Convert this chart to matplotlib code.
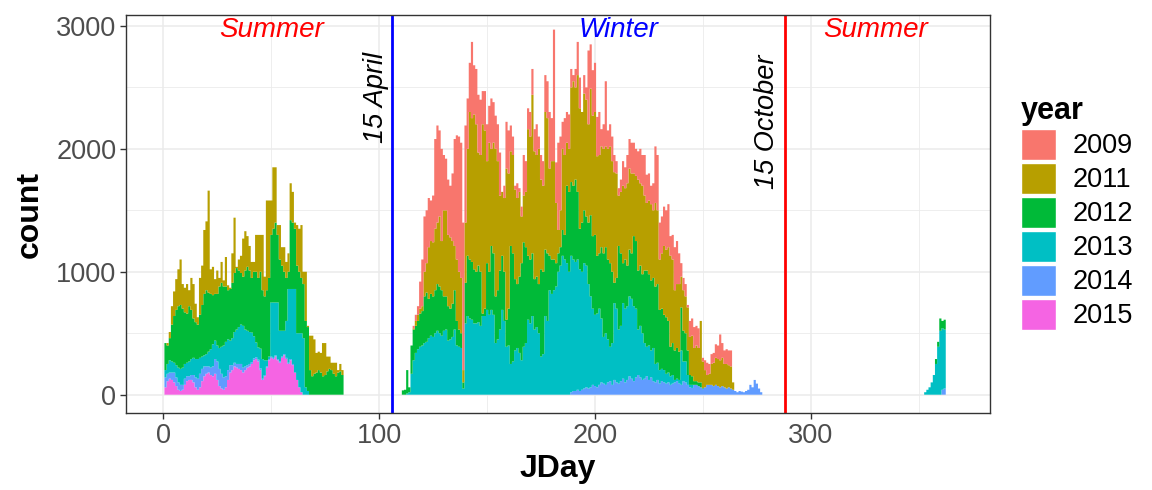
import numpy as np
import matplotlib
matplotlib.use("Agg")
import matplotlib.pyplot as plt
from matplotlib.patches import Patch
from matplotlib.ticker import MultipleLocator

plt.rcParams['font.family'] = ['Liberation Sans', 'DejaVu Sans']

# stacked daily counts
years = ['2009', '2011', '2012', '2013', '2014', '2015']
colors = ['#F8766D', '#B79F00', '#00BA38', '#00BFC4', '#619CFF', '#F564E3']

# summer block: days 1..83
summer_first = 1
summer_2015 = [60, 110, 130, 120, 100, 70, 40, 30, 40, 80,
               110, 120, 120, 100, 60, 40, 60, 110, 150, 170,
               180, 160, 150, 170, 120, 70, 50, 40, 60, 120,
               180, 200, 230, 220, 210, 200, 180, 200, 220, 230,
               250, 280, 290, 270, 200, 120, 150, 220, 280, 300,
               290, 310, 280, 260, 300, 320, 290, 250, 280, 240,
               180, 120, 60, 20, 0, 0, 0, 0, 0, 0,
               0, 0, 0, 0, 0, 0, 0, 0, 0, 0,
               0, 0, 0]
summer_2014 = [80, 60, 50, 60, 80, 70, 60, 50, 40, 50,
               40, 30, 40, 60, 80, 90, 110, 100, 80, 60,
               50, 60, 80, 120, 150, 140, 120, 100, 90, 80,
               60, 40, 30, 30, 40, 50, 40, 30, 20, 20,
               15, 15, 15, 15, 15, 10, 10, 10, 10, 10,
               10, 10, 10, 10, 10, 10, 10, 10, 10, 10,
               0, 0, 0, 0, 0, 0, 0, 0, 0, 0,
               0, 0, 0, 0, 0, 0, 0, 0, 0, 0,
               0, 0, 0]
summer_2013 = [60, 80, 100, 90, 80, 100, 120, 130, 140, 120,
               110, 120, 130, 140, 150, 160, 130, 100, 90, 100,
               120, 150, 180, 150, 130, 170, 220, 260, 280, 250,
               200, 220, 250, 280, 300, 320, 340, 300, 280, 260,
               240, 180, 120, 100, 160, 160, 120, 50, 20, 440,
               450, 430, 460, 250, 210, 190, 300, 600, 570, 610,
               680, 380, 440, 480, 460, 60, 30, 0, 0, 0,
               0, 0, 0, 0, 0, 0, 0, 0, 0, 0,
               0, 0, 0]
summer_2012 = [220, 150, 180, 300, 380, 450, 500, 520, 480, 420,
               400, 450, 400, 320, 300, 280, 350, 420, 500, 520,
               480, 450, 400, 380, 420, 500, 520, 480, 450, 400,
               420, 450, 480, 500, 460, 420, 400, 480, 520, 500,
               445, 525, 575, 565, 625, 560, 520, 570, 640, 550,
               600, 650, 550, 580, 530, 480, 350, 140, 560, 540,
               490, 550, 500, 450, 440, 540, 520, 200, 150, 170,
               180, 200, 180, 150, 160, 190, 210, 200, 170, 150,
               180, 190, 160]
summer_2011 = [0, 20, 50, 150, 200, 250, 300, 370, 200, 200,
               240, 130, 260, 280, 150, 60, 300, 320, 520, 560,
               830, 200, 230, 120, 190, 70, 170, 50, 240, 40,
               10, 240, 450, 10, 90, 140, 310, 320, 250, 200,
               130, 80, 300, 350, 300, 450, 160, 730, 630, 280,
               500, 450, 80, 280, 150, 200, 130, 150, 300, 250,
               50, 330, 350, 430, 100, 400, 10, 280, 330, 280,
               160, 150, 160, 270, 260, 120, 100, 60, 90, 110,
               20, 60, 40]

# winter block: days 111..277
winter_first = 111
winter_2014 = [0] * 78 + [20, 30, 30, 40, 30, 40, 50, 60, 50, 60,
               80, 70, 60, 80, 100, 90, 80, 100, 110, 80,
               120, 100, 90, 110, 130, 100, 120, 150, 130, 110,
               140, 160, 140, 120, 130, 150, 120, 140, 110, 100,
               120, 90, 110, 100, 90, 100, 80, 90, 100, 110,
               90, 80, 110, 100, 80, 60, 55, 80, 80, 70,
               60, 50, 60, 80, 80, 80, 70, 80, 70, 60,
               70, 60, 50, 60, 50, 40, 30, 20, 30, 25,
               20, 30, 40, 80, 60, 120, 90, 50, 20]
winter_2013 = [0, 0, 10, 20, 170, 280, 340, 370, 390, 400,
               420, 430, 460, 480, 470, 500, 520, 500, 480, 520,
               530, 440, 450, 470, 530, 400, 390, 380, 50, 580,
               640, 620, 610, 580, 580, 590, 560, 640, 640, 690,
               650, 690, 650, 420, 450, 530, 690, 600, 390, 400,
               250, 270, 360, 380, 340, 280, 390, 420, 610, 580,
               640, 530, 550, 500, 310, 330, 640, 600, 850, 820,
               850, 880, 1000, 1050, 1130, 1100, 1070, 1000, 1110, 1070,
               1050, 1060, 990, 960, 1020, 990, 850, 740, 620, 580,
               600, 620, 520, 380, 420, 350, 280, 340, 625, 600,
               440, 450, 615, 600, 600, 650, 650, 610, 560, 370,
               420, 380, 290, 240, 280, 220, 270, 150, 140, 110,
               100, 100, 80, 80, 70, 70, 20, 20, 30, 280,
               160, 170, 80, 20, 25, 0, 0, 0, 0, 0,
               0, 0, 0, 0, 0, 0, 0, 0, 0, 0,
               0, 0, 0, 0, 0, 0, 0, 0, 0, 0,
               0, 0, 0, 0, 0, 0, 0]
winter_2012 = [35, 40, 190, 40, 230, 250, 220, 230, 270, 280,
               380, 400, 320, 340, 330, 350, 380, 380, 370, 280,
               270, 280, 250, 270, 320, 200, 140, 120, 50, 330,
               490, 480, 470, 440, 420, 460, 440, 20, 60, 380,
               350, 520, 500, 380, 400, 480, 440, 400, 220, 300,
               960, 880, 580, 520, 620, 790, 850, 780, 520, 520,
               510, 410, 410, 400, 710, 670, 540, 550, 280, 280,
               250, 190, 150, 150, 210, 200, 630, 650, 600, 600,
               670, 550, 330, 400, 430, 400, 500, 660, 590, 650,
               470, 450, 580, 680, 700, 650, 680, 580, 165, 250,
               680, 590, 325, 400, 330, 380, 370, 570, 550, 480,
               490, 480, 590, 620, 580, 570, 570, 630, 640, 490,
               490, 450, 460, 420, 240, 260, 240, 250, 230, 350,
               250, 230, 200, 80, 70, 30, 30, 30, 40, 5,
               0, 0, 0, 0, 0, 0, 0, 0, 0, 0,
               0, 0, 0, 0, 0, 0, 0, 0, 0, 0,
               0, 0, 0, 0, 0, 0, 0]
winter_2011 = [0, 0, 0, 0, 0, 10, 40, 50, 40, 40,
               200, 240, 420, 430, 440, 500, 500, 570, 400, 700,
               700, 580, 580, 510, 360, 500, 470, 450, 100, 490,
               870, 1200, 1170, 1260, 1200, 920, 950, 1540, 1450, 830,
               1050, 790, 900, 1200, 1050, 610, 520, 600, 1230, 1100,
               770, 800, 730, 700, 690, 380, 380, 450, 1030, 1000,
               1290, 1040, 990, 1100, 730, 700, 1120, 1100, 710, 800,
               800, 490, 190, 300, 660, 650, 350, 350, 770, 850,
               750, 950, 980, 900, 950, 950, 800, 1030, 980, 1000,
               810, 800, 820, 850, 820, 900, 950, 900, 900, 850,
               410, 500, 630, 580, 670, 660, 650, 510, 530, 740,
               670, 720, 610, 550, 600, 620, 550, 680, 600, 410,
               450, 560, 550, 600, 740, 680, 490, 520, 550, 250,
               330, 300, 350, 310, 330, 270, 290, 280, 500, 215,
               140, 80, 90, 170, 190, 220, 220, 220, 230, 190,
               200, 180, 180, 60, 0, 0, 0, 0, 0, 0,
               0, 0, 0, 0, 0, 0, 0]
winter_2009 = [0, 0, 0, 0, 0, 20, 50, 70, 220, 380,
               450, 430, 400, 330, 380, 730, 790, 700, 750, 450,
               420, 450, 420, 550, 870, 1010, 1100, 1100, 1200, 790,
               410, 400, 620, 400, 450, 470, 450, 270, 320, 300,
               300, 410, 330, 270, 300, 350, 0, 100, 380, 350,
               210, 150, 30, 120, 30, 80, 330, 250, 170, 200,
               210, 180, 250, 100, 200, 200, 300, 300, 460, 350,
               1070, 330, 710, 600, 220, 300, 250, 280, 150, 50,
               150, 270, 250, 0, 150, 100, 600, 360, 370, 400,
               320, 350, 140, 200, 530, 150, 180, 200, 140, 100,
               60, 100, 200, 170, 230, 240, 250, 250, 220, 230,
               280, 250, 330, 230, 220, 150, 220, 460, 450, 300,
               300, 320, 320, 350, 160, 200, 350, 350, 250, 110,
               100, 100, 20, 130, 140, 170, 160, 160, 0, 30,
               80, 100, 80, 80, 80, 110, 110, 210, 120, 110,
               120, 120, 130, 0, 0, 0, 0, 0, 0, 0,
               0, 0, 0, 0, 0, 0, 0]

# late block: days 353..362
late_first = 353
late_2014 = [0, 0, 0, 0, 0, 0, 0, 0, 40, 50]
late_2013 = [20, 40, 60, 100, 160, 250, 390, 520, 500, 480]
late_2012 = [0, 0, 0, 0, 0, 40, 40, 100, 60, 80]

april_day = 106
october_day = 288

days = np.arange(1, 367)


def place(first, vals, out):
    out[first - 1:first - 1 + len(vals)] += np.array(vals, dtype=float)


counts = {y: np.zeros(len(days)) for y in years}
place(summer_first, summer_2015, counts['2015'])
place(summer_first, summer_2014, counts['2014'])
place(summer_first, summer_2013, counts['2013'])
place(summer_first, summer_2012, counts['2012'])
place(summer_first, summer_2011, counts['2011'])
place(winter_first, winter_2014, counts['2014'])
place(winter_first, winter_2013, counts['2013'])
place(winter_first, winter_2012, counts['2012'])
place(winter_first, winter_2011, counts['2011'])
place(winter_first, winter_2009, counts['2009'])
place(late_first, late_2014, counts['2014'])
place(late_first, late_2013, counts['2013'])
place(late_first, late_2012, counts['2012'])

fig = plt.figure(figsize=(11.52, 4.9), dpi=100)
ax = fig.add_axes([126 / 1152, 1 - 413 / 490, (990 - 126) / 1152, (413 - 15) / 490])

edges = np.append(days - 0.5, days[-1] + 0.5)
base = np.zeros(len(days))
# ggplot stacks the last level at the bottom
for y, c in zip(years[::-1], colors[::-1]):
    ax.stairs(base + counts[y], edges, baseline=base, fill=True, color=c, lw=0)
    base = base + counts[y]

ax.axvline(april_day, color='#0000FF', lw=2)
ax.axvline(october_day, color='#FF0000', lw=2)

ax.text(50, 2965, 'Summer', color='#FF0000', style='italic', fontsize=20, ha='center', va='center')
ax.text(211, 2965, 'Winter', color='#0000FF', style='italic', fontsize=20, ha='center', va='center')
ax.text(330, 2965, 'Summer', color='#FF0000', style='italic', fontsize=20, ha='center', va='center')
ax.text(98.5, 2415, '15 April', rotation=90, style='italic', fontsize=19.5, ha='center', va='center')
ax.text(279.7, 2220, '15 October', rotation=90, style='italic', fontsize=19.5, ha='center', va='center')

ax.set_xlim(-17.3, 383)
ax.set_ylim(-149, 3089)
ax.xaxis.set_major_locator(MultipleLocator(100))
ax.xaxis.set_minor_locator(MultipleLocator(50))
ax.yaxis.set_major_locator(MultipleLocator(1000))
ax.yaxis.set_minor_locator(MultipleLocator(500))
ax.grid(which='major', color='#EBEBEB', lw=1.1)
ax.grid(which='minor', color='#EBEBEB', lw=0.6)
ax.set_axisbelow(True)
for s in ax.spines.values():
    s.set_color('#333333')
    s.set_linewidth(1.0)
ax.tick_params(which='major', length=4, width=1, color='#333333', labelsize=19.5,
               labelcolor='#4D4D4D', pad=3)
ax.tick_params(which='minor', length=0)

ax.set_xlabel('JDay', fontsize=23, fontweight='bold', labelpad=4)
ax.set_ylabel('count', fontsize=23, fontweight='bold', labelpad=8)

handles = [Patch(facecolor=c, edgecolor='white', lw=1) for c in colors]
fig.legend(handles, years, title='year', loc='upper left',
           bbox_to_anchor=(994 / 1152, 1 - 69 / 490), frameon=False,
           fontsize=19.5, title_fontproperties={'weight': 'bold', 'size': 22},
           handlelength=1.3, handleheight=1.4, labelspacing=0.1,
           handletextpad=0.6, borderpad=0.5, alignment='left')

fig.savefig('out.png', dpi=100)
